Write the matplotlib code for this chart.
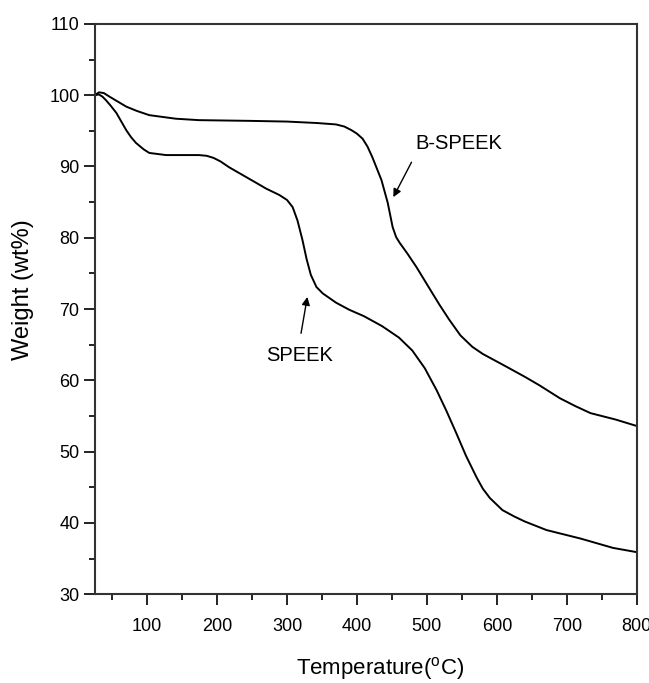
import matplotlib
matplotlib.use("Agg")
import matplotlib.pyplot as plt
from matplotlib.ticker import MultipleLocator

# TGA curves
temp_bspeek = [25, 31, 38, 46, 58, 70, 85, 103, 141, 174, 246, 300, 342, 370, 382, 392, 400,
               408, 415, 422, 435, 444, 451, 456, 461, 472, 485, 508, 518, 532, 548, 565, 580,
               597, 614, 640, 661, 690, 712, 734, 770, 800]
wt_bspeek = [100.0, 100.4, 100.3, 99.8, 99.1, 98.4, 97.8, 97.2, 96.7, 96.5, 96.4, 96.3, 96.1,
             95.9, 95.6, 95.1, 94.6, 93.9, 92.8, 91.3, 88.1, 84.9, 81.5, 80.1, 79.3, 77.8,
             75.9, 72.2, 70.6, 68.5, 66.3, 64.7, 63.7, 62.8, 61.9, 60.5, 59.3, 57.5, 56.4,
             55.4, 54.5, 53.6]

temp_speek = [25, 31, 36, 41, 48, 56, 63, 70, 77, 84, 95, 103, 127, 174, 185, 195, 205, 217,
              240, 256, 270, 289, 300, 308, 315, 322, 328, 334, 342, 351, 370, 389, 410, 436,
              460, 479, 497, 514, 528, 542, 556, 571, 580, 590, 608, 625, 640, 671, 720, 766,
              800]
wt_speek = [100.0, 100.1, 99.8, 99.3, 98.5, 97.5, 96.3, 95.1, 94.1, 93.3, 92.4, 91.9, 91.6,
            91.6, 91.5, 91.2, 90.7, 89.9, 88.6, 87.7, 86.9, 86.0, 85.3, 84.3, 82.4, 79.7,
            77.0, 74.8, 73.1, 72.2, 70.9, 69.9, 69.0, 67.6, 66.0, 64.2, 61.7, 58.6, 55.7,
            52.6, 49.4, 46.4, 44.8, 43.5, 41.8, 40.9, 40.2, 39.0, 37.8, 36.5, 35.9]

plt.rcParams['font.family'] = ['Liberation Sans', 'DejaVu Sans']
plt.rcParams['mathtext.fontset'] = 'custom'
plt.rcParams['mathtext.rm'] = 'Liberation Sans'

fig = plt.figure(figsize=(6.49, 6.83), dpi=100)
ax = fig.add_axes([0.146, 0.130, 0.835, 0.835])

ax.plot(temp_bspeek, wt_bspeek, color='black', lw=1.4)
ax.plot(temp_speek, wt_speek, color='black', lw=1.4)

ax.set_xlim(25, 800)
ax.set_ylim(30, 110)
ax.xaxis.set_major_locator(MultipleLocator(100))
ax.xaxis.set_minor_locator(MultipleLocator(50))
ax.yaxis.set_major_locator(MultipleLocator(10))
ax.yaxis.set_minor_locator(MultipleLocator(5))
ax.tick_params(which='major', direction='out', length=8, width=1.4, labelsize=13,
               color='#222222')
ax.tick_params(which='minor', direction='out', length=4.5, width=1.4, color='#222222')
ax.tick_params(axis='x', pad=9)
ax.tick_params(axis='y', pad=3)
for s in ax.spines.values():
    s.set_linewidth(1.5)
    s.set_color('#333333')

fig.text(380 / 649, 1 - 668 / 683, r'Temperature($^{\mathrm{o}}$C)', fontsize=16,
         ha='center', va='center')
fig.text(23 / 649, 1 - 290 / 683, 'Weight (wt%)', fontsize=17, rotation=90,
         ha='center', va='center')

ax.text(546, 93.2, 'B-SPEEK', fontsize=14.5, ha='center', va='center')
ax.annotate('', xy=(452, 85.7), xytext=(478, 90.6),
            arrowprops=dict(arrowstyle='-|>', color='black', lw=1, shrinkA=0, shrinkB=0,
                            mutation_scale=12))
ax.text(318, 63.5, 'SPEEK', fontsize=14.5, ha='center', va='center')
ax.annotate('', xy=(329, 71.7), xytext=(320, 66.6),
            arrowprops=dict(arrowstyle='-|>', color='black', lw=1, shrinkA=0, shrinkB=0,
                            mutation_scale=12))

fig.savefig('out.png', dpi=100)
